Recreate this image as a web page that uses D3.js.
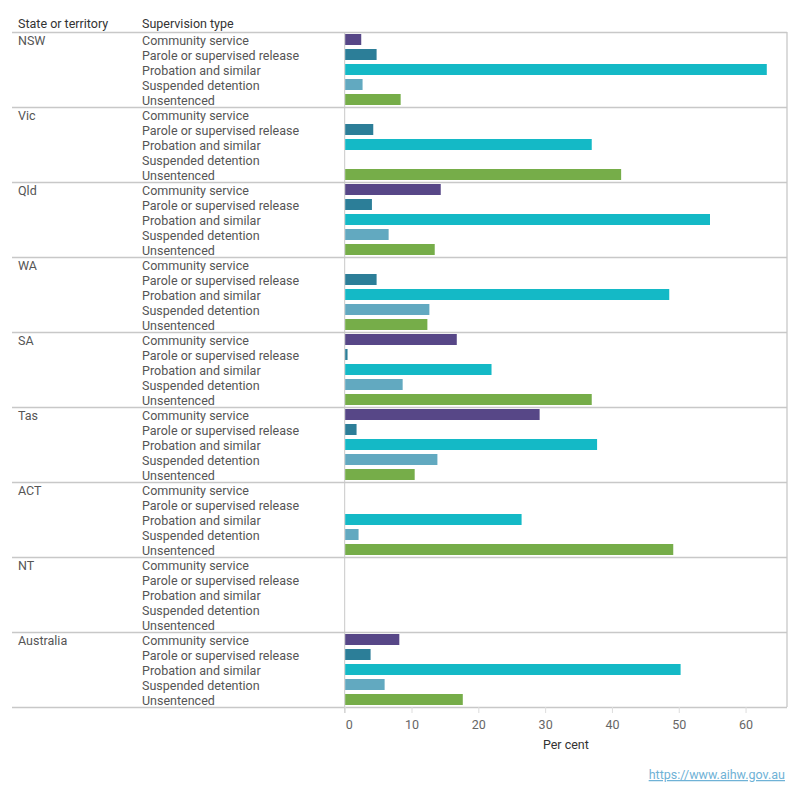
<!DOCTYPE html>
<html>
<head>
<meta charset="utf-8">
<script src="https://cdn.jsdelivr.net/npm/d3@7"></script>
<style>
  body { margin: 0; background: #fff; }
  text { font-family: Roboto, "Open Sans", sans-serif; }
</style>
</head>
<body>
<div id="chart"></div>
<script>
const states = ["NSW", "Vic", "Qld", "WA", "SA", "Tas", "ACT", "NT", "Australia"];
const types = ["Community service", "Parole or supervised release", "Probation and similar", "Suspended detention", "Unsentenced"];
const typeColors = ["#574787", "#2c7e98", "#14b9c6", "#62a9c0", "#76ad49"];

// per cent, by state, in the order of `types` (null = no bar)
const communityService = [2.4, null, 14.3, null, 16.7, 29.1, null, null, 8.1];
const parole          = [4.7, 4.2, 4.0, 4.7, 0.35, 1.7, null, null, 3.8];
const probation       = [63.1, 36.9, 54.6, 48.5, 21.9, 37.7, 26.4, null, 50.2];
const suspended       = [2.6, null, 6.5, 12.6, 8.6, 13.8, 2.0, null, 5.9];
const unsentenced     = [8.3, 41.3, 13.4, 12.3, 36.9, 10.4, 49.1, null, 17.6];
const xTicks = [0, 10, 20, 30, 40, 50, 60];

const series = [communityService, parole, probation, suspended, unsentenced];

const dims = {
  width: 800, height: 800,
  top: 32, rowH: 15, left: 12, right: 787,
  plotLeft: 344.7, barH: 11
};
const panelH = dims.rowH * types.length;
const bottom = dims.top + panelH * states.length;

const rows = [];
states.forEach((s, i) => {
  types.forEach((t, j) => {
    rows.push({ state: s, type: t, idx: i * types.length + j, value: series[j][i], color: typeColors[j] });
  });
});

const svg = d3.select("#chart").append("svg")
  .attr("width", dims.width)
  .attr("height", dims.height);

const x = d3.scaleLinear().domain([0, 66.2]).range([dims.plotLeft, dims.right]);
const y = d3.scaleBand()
  .domain(rows.map(d => d.idx))
  .range([dims.top, bottom]);

// headers
svg.append("text").attr("x", 18).attr("y", 28).attr("fill", "#333")
  .style("font-size", "12.5px").text("State or territory");
svg.append("text").attr("x", 142).attr("y", 28).attr("fill", "#333")
  .style("font-size", "12.5px").text("Supervision type");

// panel separators
svg.selectAll(".sep")
  .data(d3.range(states.length + 1))
  .enter().append("line")
  .attr("x1", dims.left).attr("x2", dims.right)
  .attr("y1", d => dims.top + d * panelH + 0.5)
  .attr("y2", d => dims.top + d * panelH + 0.5)
  .attr("stroke", "#c8c8c8").attr("stroke-width", 1.3);

// vertical lines
svg.append("line")
  .attr("x1", x(0)).attr("x2", x(0))
  .attr("y1", dims.top).attr("y2", bottom + 6)
  .attr("stroke", "#c8c8c8");
svg.append("line")
  .attr("x1", dims.right).attr("x2", dims.right)
  .attr("y1", dims.top).attr("y2", bottom)
  .attr("stroke", "#c8c8c8").attr("stroke-width", 1.3);

// state labels
svg.selectAll(".state")
  .data(states)
  .enter().append("text")
  .attr("x", 18)
  .attr("y", (d, i) => y(i * types.length) + dims.rowH / 2 + 5)
  .attr("fill", "#555")
  .style("font-size", "12.5px")
  .text(d => d);

// type labels
svg.selectAll(".type")
  .data(rows)
  .enter().append("text")
  .attr("x", 142)
  .attr("y", d => y(d.idx) + dims.rowH / 2 + 5)
  .attr("fill", "#555")
  .style("font-size", "12.5px")
  .text(d => d.type);

// bars
svg.selectAll(".bar")
  .data(rows.filter(d => d.value != null))
  .enter().append("rect")
  .attr("x", x(0) + 0.5)
  .attr("y", d => y(d.idx) + (dims.rowH - dims.barH) / 2)
  .attr("width", d => x(d.value) - x(0))
  .attr("height", dims.barH)
  .attr("fill", d => d.color);

// x axis
const axis = svg.append("g")
  .attr("transform", `translate(0,${bottom})`)
  .call(d3.axisBottom(x).tickValues(xTicks).tickSize(6).tickPadding(7));
axis.select(".domain").remove();
axis.selectAll(".tick line").attr("stroke", "#ddd");
axis.selectAll(".tick text")
  .attr("fill", "#666")
  .attr("dx", d => d === 0 ? 4 : 0)
  .style("font-size", "12.5px")
  .style("font-family", "Roboto, 'Open Sans', sans-serif");

svg.append("text")
  .attr("x", (x(0) + dims.right) / 2)
  .attr("y", bottom + 42)
  .attr("text-anchor", "middle")
  .attr("fill", "#333")
  .style("font-size", "12.5px")
  .text("Per cent");

svg.append("text")
  .attr("x", 785)
  .attr("y", 779)
  .attr("text-anchor", "end")
  .attr("fill", "#6fb2d6")
  .attr("text-decoration", "underline")
  .style("font-size", "12.5px")
  .text("https://www.aihw.gov.au");
</script>
</body>
</html>
